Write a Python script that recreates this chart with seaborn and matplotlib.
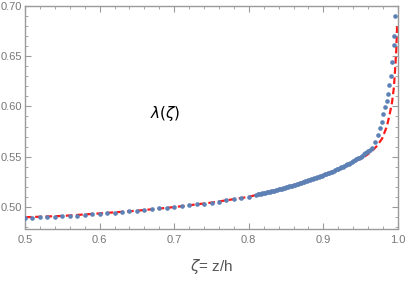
import matplotlib
matplotlib.use("Agg")
import matplotlib.pyplot as plt
from matplotlib.ticker import MultipleLocator
import seaborn as sns
import pandas as pd

# numeric solution (blue dots)
zeta_pts = [0.50, 0.51, 0.52, 0.53, 0.54, 0.55, 0.56, 0.57, 0.58, 0.59,
            0.60, 0.61, 0.62, 0.63, 0.64, 0.65, 0.66, 0.67, 0.68, 0.69,
            0.70, 0.71, 0.72, 0.73, 0.74, 0.75, 0.76, 0.77, 0.78, 0.79,
            0.80,
            0.810, 0.812, 0.814, 0.816, 0.818, 0.820, 0.822, 0.824, 0.826, 0.828,
            0.830, 0.832, 0.834, 0.836, 0.838, 0.840, 0.842, 0.844, 0.846, 0.848,
            0.850, 0.852, 0.854, 0.856, 0.858, 0.860, 0.862, 0.864, 0.866, 0.868,
            0.870, 0.872, 0.874, 0.876, 0.878, 0.880, 0.882, 0.884, 0.886, 0.888,
            0.890, 0.892, 0.894, 0.896, 0.898, 0.900, 0.902, 0.904, 0.906, 0.908,
            0.910, 0.912, 0.914, 0.916, 0.918, 0.920, 0.922, 0.924, 0.926, 0.928,
            0.930, 0.932, 0.934, 0.936, 0.938, 0.940, 0.942, 0.944, 0.946, 0.948,
            0.950, 0.952, 0.954, 0.956, 0.958, 0.960, 0.962,
            0.9647, 0.9692, 0.9728, 0.9759, 0.9780, 0.9803, 0.9826, 0.9848,
            0.9862, 0.9883, 0.9906, 0.9924, 0.9945, 0.9953, 0.9962]
lam_pts = [0.4890, 0.4891, 0.4896, 0.4898, 0.4903, 0.4905, 0.4912, 0.4914, 0.4922, 0.4929,
           0.4931, 0.4937, 0.4942, 0.4945, 0.4956, 0.4963, 0.4970, 0.4979, 0.4987, 0.4993,
           0.4998, 0.5010, 0.5017, 0.5027, 0.5033, 0.5043, 0.5053, 0.5067, 0.5077, 0.5090,
           0.5103,
           0.5120, 0.51235, 0.5127, 0.51305, 0.5134, 0.51375, 0.5141, 0.51445, 0.5148, 0.51515,
           0.5155, 0.5159, 0.5163, 0.5167, 0.5171, 0.5175, 0.5179, 0.5183, 0.5187, 0.5191,
           0.5195, 0.51995, 0.5204, 0.52085, 0.5213, 0.52175, 0.5222, 0.52265, 0.5231, 0.52355,
           0.5240, 0.5245, 0.5250, 0.5255, 0.5260, 0.5265, 0.5270, 0.5275, 0.5280, 0.5285,
           0.5290, 0.52955, 0.5301, 0.53065, 0.5312, 0.53175, 0.5323, 0.53285, 0.5334, 0.53395,
           0.5345, 0.5352, 0.5359, 0.5366, 0.5373, 0.5380, 0.5387, 0.5394, 0.5401, 0.5408,
           0.5415, 0.54235, 0.5432, 0.54405, 0.5449, 0.54575, 0.5466, 0.54745, 0.5483, 0.54915,
           0.5500, 0.5511, 0.5522, 0.5533, 0.5544, 0.5557, 0.5570,
           0.5590, 0.5650, 0.5720, 0.5790, 0.5850, 0.5920, 0.5990, 0.6050,
           0.6120, 0.6210, 0.6300, 0.6440, 0.6610, 0.6700, 0.6900]

# fit (red dashed)
zeta_fit = [0.50, 0.55, 0.60, 0.65, 0.70, 0.75, 0.80, 0.85, 0.90, 0.93,
            0.94, 0.95, 0.958, 0.965, 0.9715, 0.9787, 0.985, 0.9885, 0.992,
            0.9945, 0.9964, 0.9978, 0.9988]
lam_fit = [0.4897, 0.4910, 0.4935, 0.4962, 0.4998, 0.5043, 0.5100, 0.5193, 0.5315, 0.5410,
           0.5445, 0.5480, 0.5515, 0.5555, 0.5605, 0.5680, 0.5800, 0.5910, 0.6040,
           0.6190, 0.6400, 0.6580, 0.6800]

pts = pd.DataFrame({"zeta": zeta_pts, "lam": lam_pts})
fit = pd.DataFrame({"zeta": zeta_fit, "lam": lam_fit})

sns.set_style("white")
plt.rcParams['font.family'] = ['Liberation Sans', 'DejaVu Sans']

fig = plt.figure(figsize=(4.07, 2.81), dpi=100)
ax = fig.add_axes([25/407, 1 - 228.5/281, 373/407, 222.5/281])

sns.lineplot(data=fit, x="zeta", y="lam", ax=ax, sort=False, estimator=None,
             color="#ff1a1a", lw=1.6, dashes=False, zorder=2)
ax.lines[-1].set_dashes((3, 1.6))
sns.scatterplot(data=pts, x="zeta", y="lam", ax=ax, color="#5e81b5",
                s=11, linewidth=0, zorder=3)

ax.set_xlim(0.5, 1.0)
ax.set_ylim(0.4785, 0.70)
ax.xaxis.set_major_locator(MultipleLocator(0.1))
ax.xaxis.set_minor_locator(MultipleLocator(0.02))
ax.yaxis.set_major_locator(MultipleLocator(0.05))
ax.yaxis.set_minor_locator(MultipleLocator(0.01))
ax.xaxis.set_major_formatter(plt.FuncFormatter(lambda v, p: f"{v:.1f}"))
ax.yaxis.set_major_formatter(plt.FuncFormatter(lambda v, p: f"{v:.2f}"))

frame = "#9a9a9a"
for sp in ax.spines.values():
    sp.set_color(frame)
    sp.set_linewidth(1.0)
ax.tick_params(which="both", direction="in", top=True, right=True,
               bottom=True, left=True, colors=frame, labelcolor="#777777",
               labelsize=8)
ax.tick_params(which="major", length=4, width=0.8)
ax.tick_params(which="minor", length=2, width=0.6)
ax.tick_params(axis="x", which="major", pad=5)
ax.tick_params(axis="y", which="major", pad=2)

ax.set_xlabel(r"$\zeta$= z/h", fontsize=11, color="#555555", labelpad=8)
ax.set_ylabel("")
ax.text(0.688, 0.593, r"$\lambda(\zeta)$", fontsize=11, color="black",
        ha="center", va="center")

fig.savefig("out.png", dpi=100)
